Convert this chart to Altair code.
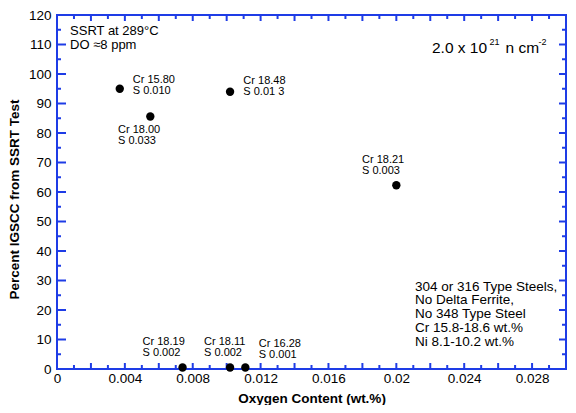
import altair as alt
import pandas as pd

# ---- data ----
oxygen = [0.0037, 0.0055, 0.0102, 0.0200, 0.0074, 0.0102, 0.0111]
percent = [95.0, 85.6, 94.0, 62.3, 0.5, 0.5, 0.5]
cr_text = ["15.80", "18.00", "18.48", "18.21", "18.19", "18.11", "16.28"]
s_text = ["0.010", "0.033", "0.01 3", "0.003", "0.002", "0.002", "0.001"]

x_label_values = [0, 0.004, 0.008, 0.012, 0.016, 0.02, 0.024, 0.028]
x_major_ticks = [0, 0.002, 0.004, 0.006, 0.008, 0.010, 0.012, 0.014, 0.016,
                 0.018, 0.020, 0.022, 0.024, 0.026, 0.028, 0.030]
x_minor_ticks = [0.001, 0.003, 0.005, 0.007, 0.009, 0.011, 0.013, 0.015,
                 0.017, 0.019, 0.021, 0.023, 0.025, 0.027, 0.029]
y_label_values = [0, 10, 20, 30, 40, 50, 60, 70, 80, 90, 100, 110, 120]
y_minor_ticks = [5, 15, 25, 35, 45, 55, 65, 75, 85, 95, 105, 115]
x_domain = [0, 0.03]
y_domain = [0, 120]

conditions_text = ["SSRT at 289°C", "DO ≈8 ppm"]
steel_text = ["304 or 316 Type Steels,", "No Delta Ferrite,", "No 348 Type Steel",
              "Cr 15.8-18.6 wt.%", "Ni 8.1-10.2 wt.%"]

# ---- styling ----
W, H = 509, 354
BLUE = "#1e3ce6"
FONT = "Liberation Sans"

df = pd.DataFrame({
    "oxygen": oxygen,
    "percent": percent,
    "label": [f"Cr {c}\nS {s}" for c, s in zip(cr_text, s_text)],
    "idx": list(range(len(oxygen))),
})

xscale = alt.Scale(domain=x_domain, nice=False, zero=False)
yscale = alt.Scale(domain=y_domain, nice=False, zero=False)

# axis labels and titles (ticks are drawn as inward tick marks below)
label_layer = alt.Chart(df).mark_point(opacity=0).encode(
    x=alt.X("oxygen:Q", scale=xscale, axis=alt.Axis(
        orient="bottom", values=x_label_values, format="~g", ticks=False,
        domain=False, grid=False, labelFont=FONT, labelFontSize=13.5,
        labelColor="black", labelPadding=2, labelFlush=False,
        title="Oxygen Content (wt.%)", titleFont=FONT, titleFontSize=13.5,
        titleFontWeight="bold", titleColor="black", titleY=33,
        titleBaseline="alphabetic")),
    y=alt.Y("percent:Q", scale=yscale, axis=alt.Axis(
        orient="left", values=y_label_values, ticks=False, domain=False,
        grid=False, labelFont=FONT, labelFontSize=13.5, labelColor="black",
        labelPadding=6, labelFlush=False,
        title="Percent IGSCC from SSRT Test", titleFont=FONT,
        titleFontSize=13.5, titleFontWeight="bold", titleColor="black",
        titleX=-38.5, titleY=184, titleAngle=-90, titleAlign="center",
        titleBaseline="alphabetic")),
)


def y_ticks(values, edge, size):
    d = pd.DataFrame({"v": values})
    return alt.Chart(d).mark_tick(orient="horizontal", size=size, thickness=2,
                                  color=BLUE, opacity=1, clip=True).encode(
        x=alt.XDatum(edge, axis=None),
        y=alt.Y("v:Q", scale=yscale, axis=None),
    )


def x_ticks(values, edge, size):
    d = pd.DataFrame({"v": values})
    return alt.Chart(d).mark_tick(orient="vertical", size=size, thickness=2,
                                  color=BLUE, opacity=1, clip=True).encode(
        x=alt.X("v:Q", scale=xscale, axis=None),
        y=alt.YDatum(edge, axis=None),
    )


tick_layers = [
    y_ticks(y_label_values, x_domain[0], 18),
    y_ticks(y_minor_ticks, x_domain[0], 8),
    y_ticks(y_label_values, x_domain[1], 14),
    y_ticks(y_minor_ticks, x_domain[1], 8),
    x_ticks(x_major_ticks, y_domain[0], 12),
    x_ticks(x_minor_ticks, y_domain[0], 8),
    x_ticks(x_major_ticks, y_domain[1], 12),
    x_ticks(x_minor_ticks, y_domain[1], 8),
]

points = alt.Chart(df).mark_circle(size=70, color="black", opacity=1).encode(
    x=alt.X("oxygen:Q", scale=xscale, axis=None),
    y=alt.Y("percent:Q", scale=yscale, axis=None),
)

label_offsets = [(13, -14.7), (-32.3, 7.7), (13.3, -17), (-34.3, -31.4),
                 (-40, -31.7), (-26, -31.7), (13.4, -29.3)]
label_layers = []
for i, (dx, dy) in enumerate(label_offsets):
    label_layers.append(
        alt.Chart(df).transform_filter(alt.datum.idx == i).mark_text(
            align="left", baseline="top", dx=dx, dy=dy, lineBreak="\n",
            fontSize=11, lineHeight=11, font=FONT, color="black"
        ).encode(
            x=alt.X("oxygen:Q", scale=xscale, axis=None),
            y=alt.Y("percent:Q", scale=yscale, axis=None),
            text="label:N",
        )
    )

ann_df = pd.DataFrame({
    "ax": [0.00077, 0.0211, 0.0221],
    "ay": [116.7, 30.3, 111.3],
    "txt": ["\n".join(conditions_text), "\n".join(steel_text), "2.0 x 10"],
    "kind": ["cond", "steel", "flux"],
})


def ann(kind, text_value, fs, dx=0, dy=0, lh=13.5):
    return alt.Chart(ann_df).transform_filter(alt.datum.kind == kind).mark_text(
        align="left", baseline="top", dx=dx, dy=dy, lineBreak="\n",
        fontSize=fs, lineHeight=lh, font=FONT, color="black"
    ).encode(
        x=alt.X("ax:Q", scale=xscale, axis=None),
        y=alt.Y("ay:Q", scale=yscale, axis=None),
        text=text_value,
    )


annotations = [
    ann("cond", "txt:N", 13, lh=14),
    ann("steel", "txt:N", 13.5, lh=13.75),
    ann("flux", "txt:N", 15.5),
    ann("flux", alt.value("21"), 9, dx=57.5, dy=-2.6),
    ann("flux", alt.value("n cm"), 15.5, dx=73.5),
    ann("flux", alt.value("-2"), 9, dx=106.5, dy=-2.6),
]

chart = alt.layer(
    label_layer, *tick_layers, points, *label_layers, *annotations
).resolve_axis(x="independent", y="independent").properties(
    width=W, height=H,
    autosize=alt.AutoSizeParams(type="none"),
    padding={"left": 49, "top": 7, "right": 2, "bottom": 36},
).configure_view(stroke=BLUE, strokeWidth=2)

chart.save("out.html", embed_options={"renderer": "svg", "actions": False})
